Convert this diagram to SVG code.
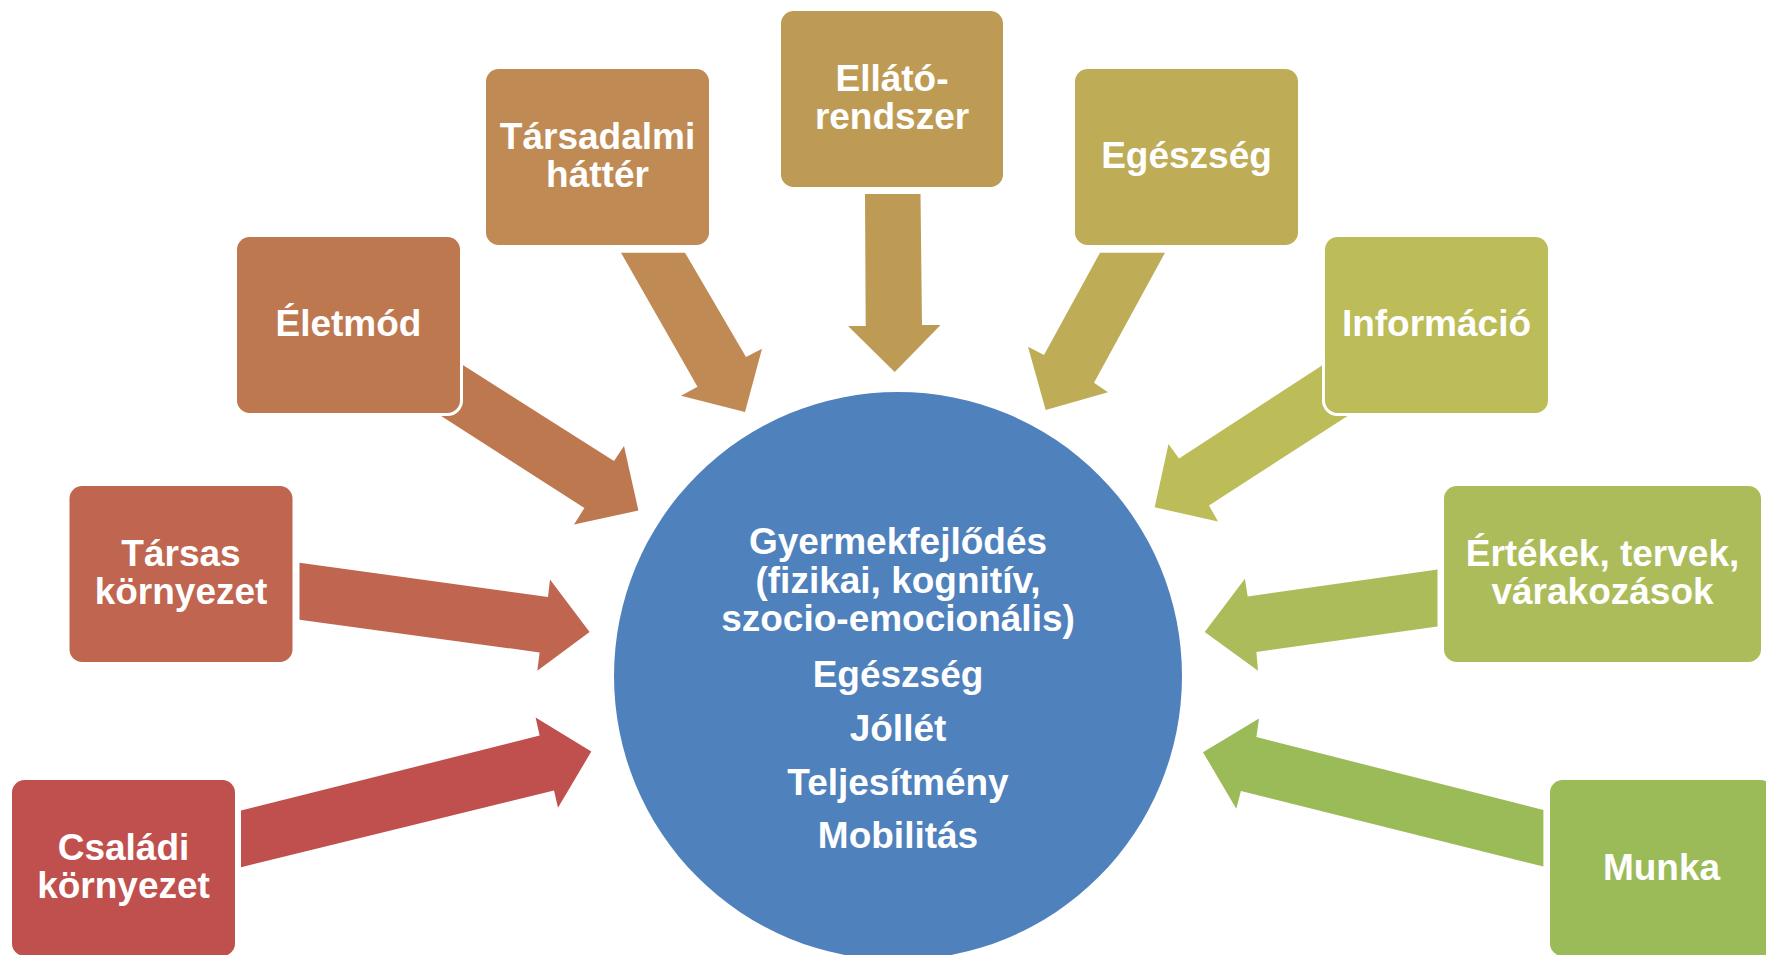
<svg xmlns="http://www.w3.org/2000/svg" width="1766" height="955" viewBox="0 0 1766 955">
<style>
.box{stroke:#ffffff;stroke-width:3}
.t{font-family:"Liberation Sans",Arial,sans-serif;font-weight:bold;font-size:37px;fill:#ffffff;text-anchor:middle}
</style>
<rect width="1766" height="955" fill="#ffffff"/>
<g id="center">
<circle cx="898" cy="676" r="284" fill="#4F81BD"/>
<text class="t" x="898" y="554">Gyermekfejlődés</text>
<text class="t" x="898" y="592.5">(fizikai, kognitív,</text>
<text class="t" x="898" y="631">szocio-emocionális)</text>
<text class="t" x="898" y="687">Egészség</text>
<text class="t" x="898" y="740.5">Jóllét</text>
<text class="t" x="898" y="794.5">Teljesítmény</text>
<text class="t" x="898" y="848">Mobilitás</text>
</g>
<g id="connectors">
<polygon fill="#C0504D" points="241,810.6 539.6,735.6 535.6,717.5 591.3,751.5 558,807.8 554,790.4 241,867.3"/>
<polygon fill="#C0654F" points="299.5,562.8 548,597 550,579.5 589.6,631.9 537.3,670.8 539.6,652.4 299.5,619.8"/>
<polygon fill="#BE7850" points="421.6,338.8 614,461 624,446 638.4,510.4 574,524.6 584.4,508 419,401.8"/>
<polygon fill="#BF8A53" points="621,252.7 685,252.7 746,357 762,348.7 745,412 681,395.7 697.5,386.7"/>
<polygon fill="#BE9B54" points="865,194 920.5,194 922,325 940.6,325 894.7,372 848,326 865.7,326"/>
<polygon fill="#BEAC57" points="1100,252.7 1165,252.7 1094,382.7 1108,392.3 1045.7,410 1028,346.7 1044,355"/>
<polygon fill="#BCBC58" points="1359.7,340.9 1179,458.4 1168.5,444 1154.7,507.3 1218,521.4 1209,505.5 1367.7,402.9"/>
<polygon fill="#ADBC5A" points="1437.5,569.5 1247.7,596.5 1244.9,578.8 1204.7,631.9 1258,670.8 1256.4,652 1437.5,626.6"/>
<polygon fill="#9BBB59" points="1543.4,810 1256.4,737 1259,718.6 1203,752.2 1236.3,808.8 1240.9,791 1543.4,866.5"/>
</g>
<g id="csaladi">
<rect class="box" x="10.5" y="778.5" width="226" height="179" rx="14" fill="#C0504D"/>
<text class="t" x="123.5" y="860">Családi</text>
<text class="t" x="123.5" y="898">környezet</text>
</g>
<g id="tarsas">
<rect class="box" x="68" y="484.5" width="226" height="179" rx="14" fill="#C0654F"/>
<text class="t" x="181" y="566">Társas</text>
<text class="t" x="181" y="604">környezet</text>
</g>
<g id="eletmod">
<rect class="box" x="235.5" y="235.5" width="226" height="179" rx="14" fill="#BE7850"/>
<text class="t" x="348.5" y="336">Életmód</text>
</g>
<g id="tarsadalmi">
<rect class="box" x="484.5" y="67.5" width="226" height="179" rx="14" fill="#BF8A53"/>
<text class="t" x="597.5" y="149">Társadalmi</text>
<text class="t" x="597.5" y="187">háttér</text>
</g>
<g id="ellato">
<rect class="box" x="779.5" y="9.5" width="225" height="179" rx="14" fill="#BE9B54"/>
<text class="t" x="892" y="91">Ellátó-</text>
<text class="t" x="892" y="129">rendszer</text>
</g>
<g id="egeszseg">
<rect class="box" x="1073.5" y="67.5" width="226" height="179" rx="14" fill="#BEAC57"/>
<text class="t" x="1186.5" y="168">Egészség</text>
</g>
<g id="informacio">
<rect class="box" x="1323.5" y="235.5" width="226" height="179" rx="14" fill="#BCBC58"/>
<text class="t" x="1436.5" y="336">Információ</text>
</g>
<g id="ertekek">
<rect class="box" x="1442.5" y="484.5" width="320" height="179" rx="14" fill="#ADBC5A"/>
<text class="t" x="1602.5" y="566">Értékek, tervek,</text>
<text class="t" x="1602.5" y="604">várakozások</text>
</g>
<g id="munka">
<rect class="box" x="1548.5" y="778.5" width="226" height="179" rx="14" fill="#9BBB59"/>
<text class="t" x="1661.5" y="880">Munka</text>
</g>
</svg>
